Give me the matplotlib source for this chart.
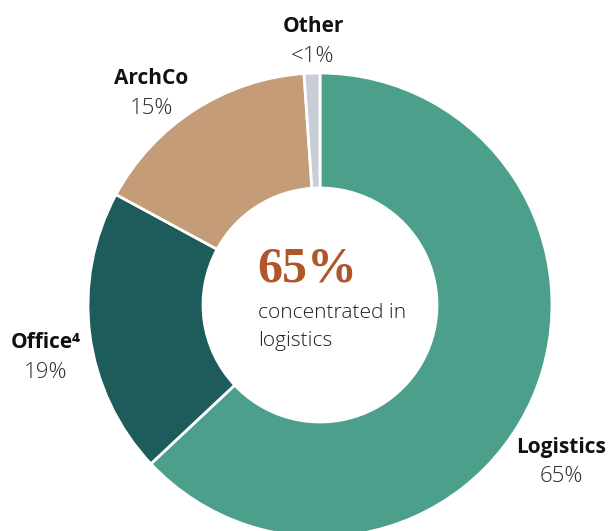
import matplotlib
matplotlib.use('Agg')
import matplotlib.pyplot as plt

# Share of the portfolio (clockwise from 12 o'clock)
categories = ['Logistics', 'Office⁴', 'ArchCo', 'Other']
shares = [63.0, 19.9, 16.0, 1.1]
share_labels = ['65%', '19%', '15%', '<1%']
colors = ['#4ca08b', '#1d5c5a', '#c49c77', '#c8cdd6']

W, H = 609, 531
fig = plt.figure(figsize=(W / 100, H / 100), dpi=100)
ax = fig.add_axes([0, 0, 1, 1])


def py(y):
    # pixel row -> data y
    return H - y


cx, cy, r_out, r_in = 320, 305, 232, 117

ax.pie(shares, colors=colors, startangle=90, counterclock=False,
       radius=r_out, center=(cx, py(cy)), frame=True,
       wedgeprops=dict(width=r_out - r_in, edgecolor='white', linewidth=2))
ax.set_xlim(0, W)
ax.set_ylim(0, H)
ax.set_aspect('equal')
ax.axis('off')

fam = ['Open Sans', 'DejaVu Sans']

# Label positions (pixel coords of label centre)
label_pos = {
    'Logistics': (561, 447),
    'Office⁴': (46, 343),
    'ArchCo': (151, 78),
    'Other': (313, 27),
}
for cat, pct in zip(categories, share_labels):
    x, y = label_pos[cat]
    ax.text(x, py(y), cat, ha='center', va='center', fontsize=15,
            fontweight='bold', family=fam, color='#111111')
    ax.text(x, py(y + 30), pct, ha='center', va='center', fontsize=16,
            fontweight='light', family=fam, color='#2a2a2a')

# Centre text
ax.text(257, py(270), '65%', ha='left', va='center', fontsize=36,
        fontweight='bold', family=['Liberation Serif', 'DejaVu Serif'],
        color='#b0562a')
ax.text(258, py(313), 'concentrated in', ha='left', va='center',
        fontsize=15, fontweight='light', family=fam, color='#1e1e1e')
ax.text(258, py(341), 'logistics', ha='left', va='center',
        fontsize=15, fontweight='light', family=fam, color='#1e1e1e')

fig.savefig('out.png', dpi=100)
